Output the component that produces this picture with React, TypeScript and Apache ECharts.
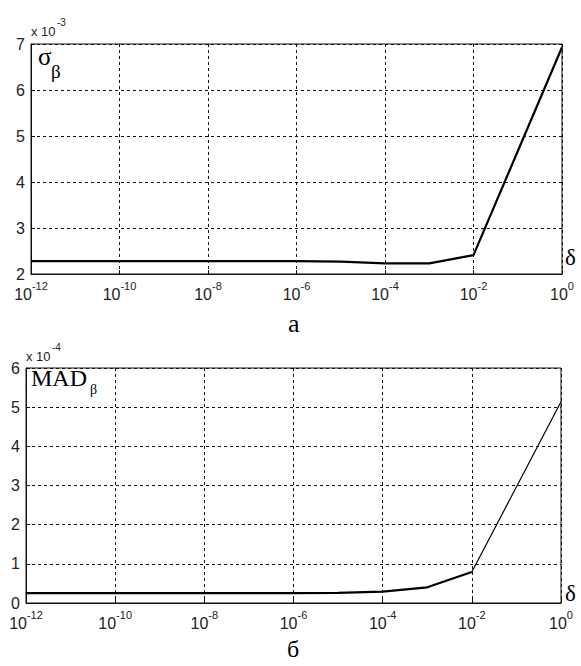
import React, { useEffect, useRef } from "react";
import * as echarts from "echarts";

// δ values as powers of ten
const deltaExp = [-12, -11, -10, -9, -8, -7, -6, -5, -4, -3, -2, 0];
// σ_β (× 10^-3)
const sigmaBeta = [2.28, 2.28, 2.28, 2.28, 2.28, 2.28, 2.28, 2.27, 2.23, 2.23, 2.41, 6.93];
// MAD_β (× 10^-4)
const madBeta = [0.25, 0.25, 0.25, 0.25, 0.25, 0.25, 0.25, 0.26, 0.29, 0.4, 0.79, 5.14];
const yTicksTop = [2, 3, 4, 5, 6, 7];
const yTicksBottom = [0, 1, 2, 3, 4, 5, 6];

const FONT = "Liberation Sans, Arial, sans-serif";
const SERIF = "Liberation Serif, Times New Roman, serif";

export default function App() {
  const ref = useRef<HTMLDivElement>(null);
  useEffect(() => {
    if (!ref.current) return;
    const chart = echarts.init(ref.current, undefined, { renderer: "svg" });
    const pts = (vals: number[], from = 0, to = vals.length) =>
      deltaExp.slice(from, to).map((e, i) => [Math.pow(10, e), vals[from + i]]);
    const split = deltaExp.indexOf(-2);

    const xAxisBase = (gridIndex: number) => ({
      type: "log" as const,
      logBase: 10,
      gridIndex,
      min: 1e-12,
      max: 1,
      interval: 2,
      axisLine: { show: true, onZero: false, lineStyle: { color: "#111", width: 1 } },
      axisTick: { show: true, inside: true, length: 4, lineStyle: { color: "#111" } },
      splitLine: { show: true, lineStyle: { color: "#111", type: [3, 3], width: 1 } },
      axisLabel: {
        margin: 6,
        formatter: (v: number) => `{b|10}{s|${Math.round(Math.log10(v))}}`,
        rich: {
          b: { fontFamily: FONT, fontSize: 16, color: "#222", verticalAlign: "bottom", lineHeight: 22 },
          s: { fontFamily: FONT, fontSize: 11, color: "#222", verticalAlign: "top", lineHeight: 22 },
        },
      },
    });
    const yAxisBase = (gridIndex: number, min: number, max: number) => ({
      type: "value" as const,
      gridIndex,
      min,
      max,
      interval: 1,
      axisLine: { show: true, lineStyle: { color: "#111", width: 1 } },
      axisTick: { show: true, inside: true, length: 4, lineStyle: { color: "#111" } },
      splitLine: { show: true, lineStyle: { color: "#111", type: [3, 3], width: 1 } },
      axisLabel: { fontFamily: FONT, fontSize: 16, color: "#222", margin: 6 },
    });

    chart.setOption({
      animation: false,
      backgroundColor: "#fff",
      grid: [
        { left: 31, right: 19, top: 44, height: 230, show: true, borderColor: "#111", borderWidth: 1 },
        { left: 26, right: 20, top: 368, height: 235, show: true, borderColor: "#111", borderWidth: 1 },
      ],
      xAxis: [xAxisBase(0), xAxisBase(1)],
      yAxis: [
        yAxisBase(0, yTicksTop[0], yTicksTop[yTicksTop.length - 1]),
        yAxisBase(1, yTicksBottom[0], yTicksBottom[yTicksBottom.length - 1]),
      ],
      series: [
        {
          type: "line",
          xAxisIndex: 0,
          yAxisIndex: 0,
          data: pts(sigmaBeta),
          showSymbol: false,
          lineStyle: { color: "#000", width: 2.2 },
        },
        {
          type: "line",
          xAxisIndex: 1,
          yAxisIndex: 1,
          data: pts(madBeta, 0, split + 1),
          showSymbol: false,
          lineStyle: { color: "#000", width: 2.2 },
        },
        {
          type: "line",
          xAxisIndex: 1,
          yAxisIndex: 1,
          data: pts(madBeta, split, deltaExp.length),
          showSymbol: false,
          lineStyle: { color: "#000", width: 1.2 },
        },
      ],
      graphic: [
        // multipliers
        { type: "text", left: 31, top: 25, style: { text: "x 10", font: `13px ${FONT}`, fill: "#222" } },
        { type: "text", left: 57, top: 17, style: { text: "-3", font: `10px ${FONT}`, fill: "#222" } },
        { type: "text", left: 26, top: 350, style: { text: "x 10", font: `13px ${FONT}`, fill: "#222" } },
        { type: "text", left: 52, top: 342, style: { text: "-4", font: `10px ${FONT}`, fill: "#222" } },
        // in-plot labels
        { type: "text", left: 38, top: 44, style: { text: "σ", font: `25px ${SERIF}`, fill: "#000" } },
        { type: "text", left: 51, top: 62, style: { text: "β", font: `19px ${SERIF}`, fill: "#000" } },
        { type: "text", left: 31, top: 366, style: { text: "MAD", font: `24px ${SERIF}`, fill: "#000" } },
        { type: "text", left: 90, top: 382, style: { text: "β", font: `14px ${SERIF}`, fill: "#000" } },
        // δ symbols
        { type: "text", left: 565, top: 246, style: { text: "δ", font: `23px ${SERIF}`, fill: "#000" } },
        { type: "text", left: 565, top: 582, style: { text: "δ", font: `23px ${SERIF}`, fill: "#000" } },
        // captions
        { type: "text", left: 288, top: 310, style: { text: "а", font: `26px ${SERIF}`, fill: "#000" } },
        { type: "text", left: 287, top: 637, style: { text: "б", font: `24px ${SERIF}`, fill: "#000" } },
      ],
    });
    return () => chart.dispose();
  }, []);
  return (
    <div
      ref={ref}
      style={{ position: "fixed", left: 0, top: 0, width: 581, height: 666, background: "#fff" }}
    />
  );
}
